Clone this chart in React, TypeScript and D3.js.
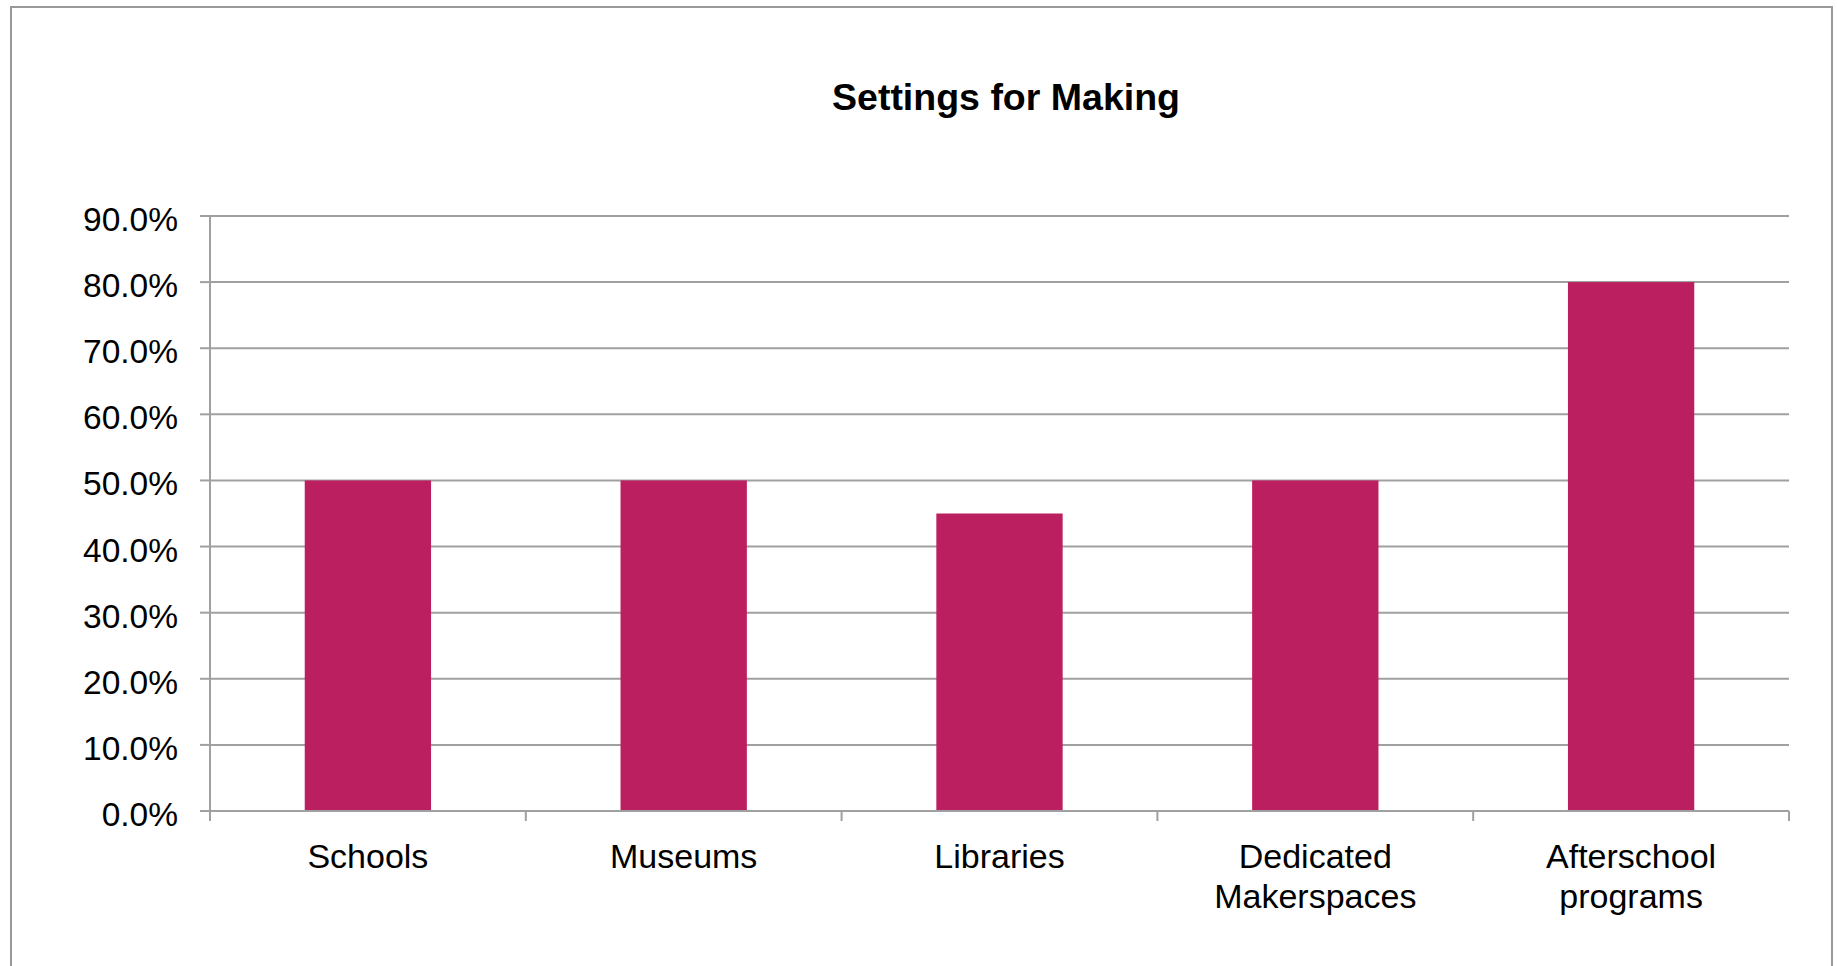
import React from "react";
import * as d3 from "d3";

const categories: string[][] = [
  ["Schools"],
  ["Museums"],
  ["Libraries"],
  ["Dedicated", "Makerspaces"],
  ["Afterschool", "programs"],
];
const values: number[] = [0.5, 0.5, 0.45, 0.5, 0.8];
const yTicks: number[] = [0, 0.1, 0.2, 0.3, 0.4, 0.5, 0.6, 0.7, 0.8, 0.9];
const title = "Settings for Making";

const W = 1837;
const H = 966;
const FONT = "'Liberation Sans', Arial, Helvetica, sans-serif";

export default function App() {
  const left = 210;
  const right = 1789;
  const top = 216;
  const bottom = 811;
  const keys = categories.map((c) => c.join(" "));
  const x = d3.scaleBand<string>().domain(keys).range([left, right]).paddingInner(0.6).paddingOuter(0.3);
  const xOuter = d3.scaleBand<string>().domain(keys).range([left, right]);
  const y = d3.scaleLinear().domain([0, 0.9]).range([bottom, top]);
  const fmt = d3.format(".1%");
  const grid = "#a0a0a0";

  return (
    <svg width={W} height={H} style={{ position: "absolute", left: 0, top: 0, background: "#fff" }}>
      <rect x={11} y={7} width={1821} height={1000} fill="#fff" stroke="#999" strokeWidth={2} />
      <text x={1006} y={110} textAnchor="middle" fontFamily={FONT} fontWeight="bold" fontSize={37.5} fill="#000">
        {title}
      </text>
      {yTicks.map((t) => (
        <g key={t}>
          {t > 0 && <line x1={left} x2={right} y1={y(t)} y2={y(t)} stroke={grid} strokeWidth={2} />}
          <line x1={200} x2={left} y1={y(t)} y2={y(t)} stroke={grid} strokeWidth={2} />
          <text x={178} y={y(t) + 15} textAnchor="end" fontFamily={FONT} fontSize={33.5} fill="#000">
            {fmt(t)}
          </text>
        </g>
      ))}
      {values.map((v, i) => (
        <rect key={keys[i]} x={x(keys[i])} y={y(v)} width={x.bandwidth()} height={y(0) - y(v)} fill="#bb1f60" />
      ))}
      <line x1={left} x2={left} y1={top} y2={bottom + 10} stroke={grid} strokeWidth={2} />
      <line x1={200} x2={right} y1={bottom} y2={bottom} stroke={grid} strokeWidth={2} />
      {keys.map((k) => (
        <line key={"t" + k} x1={(xOuter(k) as number) + xOuter.bandwidth()} x2={(xOuter(k) as number) + xOuter.bandwidth()} y1={bottom} y2={bottom + 10} stroke={grid} strokeWidth={2} />
      ))}
      {categories.map((lines, i) => (
        <text key={"c" + i} x={(xOuter(keys[i]) as number) + xOuter.bandwidth() / 2} y={868} textAnchor="middle" fontFamily={FONT} fontSize={34} fill="#000">
          {lines.map((l, j) => (
            <tspan key={j} x={(xOuter(keys[i]) as number) + xOuter.bandwidth() / 2} dy={j === 0 ? 0 : 40}>
              {l}
            </tspan>
          ))}
        </text>
      ))}
    </svg>
  );
}
